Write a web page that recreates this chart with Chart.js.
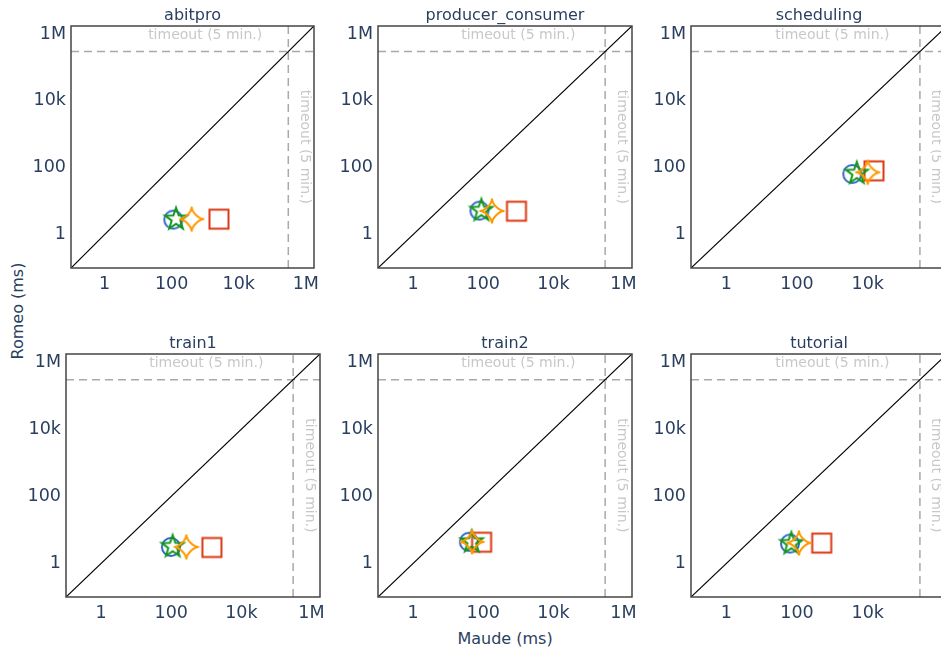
<!DOCTYPE html>
<html>
<head>
<meta charset="utf-8">
<title>Romeo vs Maude</title>
<script src="https://cdn.jsdelivr.net/npm/chart.js@4.4.1/dist/chart.umd.min.js"></script>
<style>
  html, body { margin: 0; padding: 0; background: #fff; overflow: hidden; }
  #wrap { position: relative; width: 941px; height: 651px; overflow: hidden; font-family: "DejaVu Sans", Verdana, sans-serif; }
  #wrap canvas { position: absolute; }
  .axis-title { position: absolute; color: #2a3f5f; font-size: 16px; white-space: nowrap; }
</style>
</head>
<body>
<div id="wrap">
  <div class="axis-title" style="left:505px; top:638px; transform:translate(-50%,-50%);">Maude (ms)</div>
  <div class="axis-title" style="left:17px; top:311px; transform:translate(-50%,-50%) rotate(-90deg);">Romeo (ms)</div>
</div>
<script>
// one panel per model
const panels = ['abitpro', 'producer_consumer', 'scheduling', 'train1', 'train2', 'tutorial'];

// x = Maude time (ms), y = Romeo time (ms), one entry per panel
const circleMaude  = [112, 78, 3650, 98, 39, 63];
const circleRomeo  = [2.8, 5.2, 65, 3.1, 4.4, 3.9];
const starMaude    = [135, 89, 4900, 110, 47, 69];
const starRomeo    = [2.9, 5.3, 68, 3.2, 4.4, 3.9];
const diamondMaude = [394, 178, 10000, 270, 48, 113];
const diamondRomeo = [2.9, 5.1, 73, 3.1, 4.4, 4.1];
const squareMaude  = [2570, 890, 15000, 1450, 90, 500];
const squareRomeo  = [2.9, 5.0, 81, 3.0, 4.3, 4.05];

// axes
const tickValues = [1, 100, 1e4, 1e6];
const tickLabels = ['1', '100', '10k', '1M'];
const axisMin = 0.1;
const axisMax = 1.75e6;
const timeoutMs = 300000;      // 5 min
const timeoutLabelX = 1000;
const timeoutLabelY = 420;

// plot area of each panel inside the page (left, top, width, height)
const boxes = [
  [71, 26, 243, 242], [378, 26, 254, 242], [690.5, 26, 256, 242],
  [66, 354, 254, 243], [378, 354, 254, 243], [690.5, 354, 256, 243]
];
const PAD_L = 60, PAD_T = 32, PAD_R = 24, PAD_B = 40;
const FONT = '"DejaVu Sans", Verdana, sans-serif';

function makeMarker(size, draw) {
  const c = document.createElement('canvas');
  c.width = size; c.height = size;
  const g = c.getContext('2d');
  g.translate(size / 2, size / 2);
  g.lineWidth = 2;
  draw(g);
  return c;
}

const circleMark = makeMarker(30, g => {
  g.strokeStyle = '#3366CC';
  g.beginPath(); g.arc(0, 0, 9, 0, Math.PI * 2); g.stroke();
});
const squareMark = makeMarker(30, g => {
  g.strokeStyle = '#DC3912';
  g.strokeRect(-9.5, -9.5, 19, 19);
});
const starMark = makeMarker(30, g => {
  g.strokeStyle = '#109618';
  g.beginPath();
  for (let i = 0; i < 10; i++) {
    const r = i % 2 ? 4.6 : 11.5;
    const a = -Math.PI / 2 + i * Math.PI / 5;
    g.lineTo(r * Math.cos(a), r * Math.sin(a));
  }
  g.closePath(); g.stroke();
});
const diamondMark = makeMarker(32, g => {
  const rc = 12.5, rd = 7;
  g.strokeStyle = '#FF9900';
  g.beginPath();
  g.moveTo(-rc, 0);
  g.bezierCurveTo(-rd, 0, 0, rd, 0, rc);
  g.bezierCurveTo(0, rd, rd, 0, rc, 0);
  g.bezierCurveTo(rd, 0, 0, -rd, 0, -rc);
  g.bezierCurveTo(0, -rd, -rd, 0, -rc, 0);
  g.closePath(); g.stroke();
});

const overlay = {
  id: 'overlay',
  afterDraw(chart, args, opts) {
    const { ctx, chartArea: a, scales: { x, y } } = chart;
    ctx.save();
    ctx.strokeStyle = '#444';
    ctx.lineWidth = 1.5;
    ctx.strokeRect(a.left, a.top, a.right - a.left, a.bottom - a.top);

    ctx.textAlign = 'center';
    ctx.textBaseline = 'middle';
    ctx.fillStyle = '#2a3f5f';
    ctx.font = '16px ' + FONT;
    ctx.fillText(opts.title, (a.left + a.right) / 2, a.top - 10);

    ctx.fillStyle = '#c8c8c8';
    ctx.font = '14px ' + FONT;
    ctx.fillText('timeout (5 min.)', x.getPixelForValue(timeoutLabelX), y.getPixelForValue(timeoutMs) - 16);
    ctx.translate(x.getPixelForValue(timeoutMs) + 16, y.getPixelForValue(timeoutLabelY));
    ctx.rotate(Math.PI / 2);
    ctx.fillText('timeout (5 min.)', 0, 0);
    ctx.restore();
  }
};

function logAxis(isX, hideLast) {
  const vals = tickValues.filter(v => !(hideLast && v === 1e6));
  return {
    type: 'logarithmic',
    min: axisMin,
    max: axisMax,
    grid: { display: false, drawTicks: false },
    border: { display: false },
    afterBuildTicks: s => { s.ticks = vals.map(v => ({ value: v })); },
    afterFit: s => { if (isX) s.height = PAD_B; else s.width = PAD_L; },
    ticks: {
      color: '#2a3f5f',
      font: { family: FONT, size: 17.5 },
      padding: isX ? 6 : 5,
      autoSkip: false,
      maxRotation: 0,
      callback: v => tickLabels[tickValues.indexOf(v)]
    }
  };
}

function refLine(points, color, dash) {
  return {
    data: points, showLine: true, pointRadius: 0, borderColor: color,
    borderWidth: dash ? 1.5 : 1.2, borderDash: dash || [], order: 10
  };
}

function markers(mark, xs, ys, i, order) {
  return {
    data: [{ x: xs[i], y: ys[i] }], pointStyle: mark, pointRadius: 10,
    showLine: false, order: order
  };
}

const wrap = document.getElementById('wrap');
panels.forEach((name, i) => {
  const [L, T, W, H] = boxes[i];
  const cv = document.createElement('canvas');
  const cw = W + PAD_L + PAD_R, ch = H + PAD_T + PAD_B;
  cv.width = cw; cv.height = ch;
  cv.style.left = (L - PAD_L) + 'px';
  cv.style.top = (T - PAD_T) + 'px';
  cv.style.width = cw + 'px';
  cv.style.height = ch + 'px';
  wrap.appendChild(cv);

  new Chart(cv, {
    type: 'scatter',
    data: {
      datasets: [
        refLine([{ x: axisMin, y: axisMin }, { x: axisMax, y: axisMax }], '#000'),
        refLine([{ x: axisMin, y: timeoutMs }, { x: axisMax, y: timeoutMs }], '#a9a9a9', [8, 5]),
        refLine([{ x: timeoutMs, y: axisMin }, { x: timeoutMs, y: axisMax }], '#a9a9a9', [8, 5]),
        markers(circleMark, circleMaude, circleRomeo, i, 4),
        markers(squareMark, squareMaude, squareRomeo, i, 3),
        markers(starMark, starMaude, starRomeo, i, 2),
        markers(diamondMark, diamondMaude, diamondRomeo, i, 1)
      ]
    },
    options: {
      responsive: false,
      maintainAspectRatio: false,
      devicePixelRatio: 1,
      animation: false,
      layout: { padding: { top: PAD_T, right: PAD_R, left: 0, bottom: 0 } },
      scales: {
        x: logAxis(true, i % 3 === 2),
        y: logAxis(false, false)
      },
      plugins: {
        legend: { display: false },
        tooltip: { enabled: false },
        overlay: { title: name }
      }
    },
    plugins: [overlay]
  });
});
</script>
</body>
</html>
